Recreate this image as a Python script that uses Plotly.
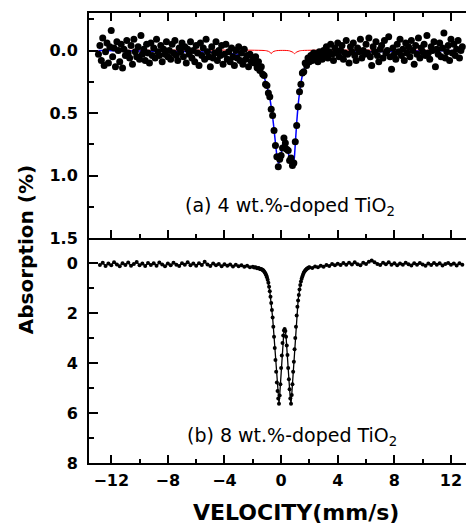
import plotly.graph_objects as go

# Mossbauer spectra, absorption (%) vs source velocity (mm/s)

# (a) 4 wt.% doped: measured points, 0.1 mm/s channels
velocity_a = [
    -12.9, -12.8, -12.7, -12.6, -12.5, -12.4, -12.3, -12.2, -12.1, -12.0,
    -11.9, -11.8, -11.7, -11.6, -11.5, -11.4, -11.3, -11.2, -11.1, -11.0,
    -10.9, -10.8, -10.7, -10.6, -10.5, -10.4, -10.3, -10.2, -10.1, -10.0,
    -9.9, -9.8, -9.7, -9.6, -9.5, -9.4, -9.3, -9.2, -9.1, -9.0,
    -8.9, -8.8, -8.7, -8.6, -8.5, -8.4, -8.3, -8.2, -8.1, -8.0,
    -7.9, -7.8, -7.7, -7.6, -7.5, -7.4, -7.3, -7.2, -7.1, -7.0,
    -6.9, -6.8, -6.7, -6.6, -6.5, -6.4, -6.3, -6.2, -6.1, -6.0,
    -5.9, -5.8, -5.7, -5.6, -5.5, -5.4, -5.3, -5.2, -5.1, -5.0,
    -4.9, -4.8, -4.7, -4.6, -4.5, -4.4, -4.3, -4.2, -4.1, -4.0,
    -3.9, -3.8, -3.7, -3.6, -3.5, -3.4, -3.3, -3.2, -3.1, -3.0,
    -2.9, -2.8, -2.7, -2.6, -2.5, -2.4, -2.3, -2.2, -2.1, -2.0,
    -1.9, -1.8, -1.7, -1.6, -1.5, -1.4, -1.3, -1.2, -1.1, -1.0,
    -0.9, -0.8, -0.7, -0.6, -0.5, -0.4, -0.3, -0.2, -0.1, 0.0,
    0.1, 0.2, 0.3, 0.4, 0.5, 0.6, 0.7, 0.8, 0.9, 1.0,
    1.1, 1.2, 1.3, 1.4, 1.5, 1.6, 1.7, 1.8, 1.9, 2.0,
    2.1, 2.2, 2.3, 2.4, 2.5, 2.6, 2.7, 2.8, 2.9, 3.0,
    3.1, 3.2, 3.3, 3.4, 3.5, 3.6, 3.7, 3.8, 3.9, 4.0,
    4.1, 4.2, 4.3, 4.4, 4.5, 4.6, 4.7, 4.8, 4.9, 5.0,
    5.1, 5.2, 5.3, 5.4, 5.5, 5.6, 5.7, 5.8, 5.9, 6.0,
    6.1, 6.2, 6.3, 6.4, 6.5, 6.6, 6.7, 6.8, 6.9, 7.0,
    7.1, 7.2, 7.3, 7.4, 7.5, 7.6, 7.7, 7.8, 7.9, 8.0,
    8.1, 8.2, 8.3, 8.4, 8.5, 8.6, 8.7, 8.8, 8.9, 9.0,
    9.1, 9.2, 9.3, 9.4, 9.5, 9.6, 9.7, 9.8, 9.9, 10.0,
    10.1, 10.2, 10.3, 10.4, 10.5, 10.6, 10.7, 10.8, 10.9, 11.0,
    11.1, 11.2, 11.3, 11.4, 11.5, 11.6, 11.7, 11.8, 11.9, 12.0,
    12.1, 12.2, 12.3, 12.4, 12.5, 12.6, 12.7, 12.8,
]
absorption_a = [
    0.03, -0.04, 0.08, -0.10, 0.12, 0.01, -0.06, 0.10, -0.03, -0.16,
    0.05, -0.02, 0.13, -0.07, 0.00, 0.09, -0.05, 0.14, -0.01, 0.04,
    -0.08, 0.02, 0.06, -0.04, 0.11, -0.09, 0.01, 0.05, -0.03, 0.07,
    -0.12, 0.03, -0.01, 0.08, -0.05, 0.02, 0.10, -0.06, 0.04, -0.02,
    0.06, -0.09, 0.01, 0.04, -0.04, 0.09, -0.01, 0.03, -0.07, 0.05,
    0.00, 0.07, -0.05, 0.02, -0.08, 0.04, 0.08, -0.02, 0.01, -0.06,
    0.05, -0.03, 0.10, -0.01, 0.03, -0.07, 0.06, 0.00, 0.09, -0.04,
    0.02, 0.12, -0.06, 0.04, -0.02, 0.07, -0.09, 0.01, 0.05, 0.13,
    -0.03, 0.06, 0.02, -0.07, 0.08, 0.00, 0.04, -0.04, 0.11, 0.03,
    -0.05, 0.07, 0.01, 0.09, -0.02, 0.05, 0.12, 0.00, 0.06, -0.03,
    0.08, 0.02, 0.11, -0.01, 0.07, 0.04, 0.13, 0.03, 0.09, 0.06,
    0.10, 0.05, 0.14, 0.09, 0.16, 0.13, 0.19, 0.20, 0.27, 0.28,
    0.34, 0.37, 0.47, 0.52, 0.64, 0.76, 0.85, 0.93, 0.87, 0.84,
    0.78, 0.70, 0.74, 0.79, 0.80, 0.88, 0.86, 0.92, 0.90, 0.73,
    0.60, 0.45, 0.33, 0.27, 0.18, 0.17, 0.10, 0.12, 0.06, 0.09,
    0.04, 0.08, 0.02, 0.06, 0.03, 0.09, 0.01, 0.05, 0.07, 0.00,
    0.04, -0.03, 0.06, 0.01, -0.05, 0.03, 0.08, -0.02, 0.02, -0.06,
    0.05, 0.00, -0.04, 0.07, 0.02, -0.08, 0.03, 0.10, -0.03, 0.01,
    -0.06, 0.04, 0.08, -0.02, 0.01, -0.09, 0.06, 0.00, 0.03, -0.05,
    0.02, -0.10, 0.05, 0.12, -0.03, 0.01, -0.07, 0.04, 0.09, -0.01,
    -0.04, 0.06, -0.08, 0.02, 0.00, -0.11, 0.05, 0.15, -0.02, 0.03,
    0.07, -0.05, 0.01, -0.09, 0.04, -0.01, 0.08, -0.06, 0.02, -0.03,
    0.05, -0.08, 0.00, 0.11, -0.04, 0.03, -0.10, 0.06, -0.02, 0.01,
    -0.05, 0.04, -0.12, 0.02, 0.07, -0.03, 0.00, -0.07, 0.13, -0.01,
    0.03, -0.06, 0.05, -0.02, -0.14, 0.06, 0.01, -0.04, 0.08, -0.09,
    0.02, -0.05, 0.04, -0.01, -0.08, 0.06, 0.00, -0.03,
]

# (a) fitted total (blue) and minor component (red)
fit_velocity_a = [
    -12.9, -6.0, -4.0, -3.0, -2.5, -2.0, -1.8, -1.6, -1.4, -1.3,
    -1.2, -1.1, -1.0, -0.9, -0.8, -0.7, -0.6, -0.5, -0.4, -0.3,
    -0.2, -0.1, 0.0, 0.1, 0.2, 0.3, 0.4, 0.5, 0.6, 0.7,
    0.8, 0.9, 1.0, 1.1, 1.2, 1.3, 1.4, 1.5, 1.6, 1.8,
    2.0, 2.5, 3.0, 4.0, 6.0, 12.8,
]
fit_total_a = [
    0.00, 0.01, 0.02, 0.03, 0.04, 0.06, 0.08, 0.11, 0.14, 0.17,
    0.21, 0.25, 0.29, 0.33, 0.38, 0.45, 0.53, 0.63, 0.74, 0.84,
    0.90, 0.89, 0.83, 0.76, 0.72, 0.73, 0.77, 0.82, 0.86, 0.89,
    0.91, 0.89, 0.75, 0.58, 0.44, 0.34, 0.26, 0.20, 0.16, 0.10,
    0.07, 0.04, 0.03, 0.02, 0.01, 0.00,
]
comp_velocity_a = [-12.9, -1.2, -1.0, -0.8, -0.7, -0.6, -0.4, -0.2,
                   0.4, 0.6, 0.8, 0.95, 1.1, 1.3, 1.5, 12.8]
comp_a = [0.0, 0.0, 0.003, 0.012, 0.025, 0.012, 0.003, 0.0,
          0.0, 0.003, 0.012, 0.025, 0.012, 0.003, 0.0, 0.0]

# (b) 8 wt.% doped: measured points (denser through the doublet)
velocity_b = [
    -12.8, -12.6, -12.4, -12.2, -12.0, -11.8, -11.6, -11.4, -11.2, -11.0,
    -10.8, -10.6, -10.4, -10.2, -10.0, -9.8, -9.6, -9.4, -9.2, -9.0,
    -8.8, -8.6, -8.4, -8.2, -8.0, -7.8, -7.6, -7.4, -7.2, -7.0,
    -6.8, -6.6, -6.4, -6.2, -6.0, -5.8, -5.6, -5.4, -5.2, -5.0,
    -4.8, -4.6, -4.4, -4.2, -4.0, -3.8, -3.6, -3.4, -3.2, -3.0,
    -2.8, -2.6, -2.4, -2.2, -2.0, -1.9, -1.8, -1.7, -1.6,
    -1.55, -1.50, -1.45, -1.40, -1.35, -1.30, -1.25, -1.20, -1.15, -1.10,
    -1.05, -1.00, -0.95, -0.90, -0.85, -0.80, -0.75, -0.70, -0.65, -0.60,
    -0.55, -0.50, -0.45, -0.40, -0.35, -0.30, -0.25, -0.20, -0.15, -0.10,
    -0.05, 0.00, 0.05, 0.10, 0.15, 0.20, 0.25, 0.30, 0.35, 0.40,
    0.45, 0.50, 0.55, 0.60, 0.65, 0.70, 0.75, 0.80, 0.85, 0.90,
    0.95, 1.00, 1.05, 1.10, 1.15, 1.20, 1.25, 1.30, 1.35, 1.40,
    1.45, 1.50, 1.55, 1.60, 1.65, 1.70, 1.75, 1.80, 1.85, 1.90,
    1.95, 2.00,
    2.2, 2.4, 2.6, 2.8, 3.0, 3.2, 3.4, 3.6, 3.8, 4.0,
    4.2, 4.4, 4.6, 4.8, 5.0, 5.2, 5.4, 5.6, 5.8, 6.0,
    6.2, 6.4, 6.6, 6.8, 7.0, 7.2, 7.4, 7.6, 7.8, 8.0,
    8.2, 8.4, 8.6, 8.8, 9.0, 9.2, 9.4, 9.6, 9.8, 10.0,
    10.2, 10.4, 10.6, 10.8, 11.0, 11.2, 11.4, 11.6, 11.8, 12.0,
    12.2, 12.4, 12.6, 12.8,
]
absorption_b = [
    0.08, -0.01, 0.12, 0.02, 0.09, -0.03, 0.06, 0.13, 0.01, 0.08,
    -0.02, 0.11, 0.04, -0.04, 0.09, 0.02, 0.12, 0.00, 0.08, 0.01,
    0.11, -0.02, 0.06, 0.13, 0.02, 0.09, -0.01, 0.07, 0.12, 0.01,
    0.07, -0.03, 0.09, 0.02, 0.11, 0.01, 0.08, -0.05, 0.06, 0.12,
    0.02, 0.09, 0.04, 0.13, 0.05, 0.11, 0.06, 0.14, 0.07, 0.13,
    0.09, 0.15, 0.11, 0.17, 0.15, 0.18, 0.17, 0.21, 0.20,
    0.22, 0.23, 0.24, 0.25, 0.26, 0.28, 0.30, 0.34, 0.38, 0.43,
    0.49, 0.57, 0.67, 0.79, 0.95, 1.13, 1.35, 1.60, 1.88, 2.18,
    2.55, 2.95, 3.40, 3.88, 4.35, 4.78, 5.12, 5.42, 5.63, 5.30,
    4.85, 4.20, 3.70, 3.20, 2.90, 2.70, 2.64, 2.72, 2.95, 3.30,
    3.68, 4.20, 4.65, 5.05, 5.42, 5.63, 5.28, 4.85, 4.35, 3.95,
    3.45, 3.00, 2.55, 2.10, 1.75, 1.50, 1.28, 1.06, 0.88, 0.74,
    0.63, 0.54, 0.46, 0.39, 0.34, 0.30, 0.27, 0.24, 0.22, 0.20,
    0.18, 0.17,
    0.20, 0.14, 0.17, 0.11, 0.15, 0.08, 0.12, 0.04, 0.09, 0.03,
    0.08, 0.00, 0.07, -0.01, 0.06, -0.03, 0.05, 0.09, -0.01, 0.04,
    -0.05, -0.10, -0.03, 0.04, 0.08, -0.01, 0.05, -0.03, 0.07, 0.01,
    0.09, 0.02, 0.07, -0.01, 0.05, 0.10, 0.01, 0.07, 0.00, 0.06,
    0.11, 0.02, 0.08, 0.00, 0.07, 0.01, 0.10, 0.04, 0.00, 0.07,
    0.02, 0.10, 0.01, 0.07,
]

FONT = "DejaVu Sans"
tick_font = dict(family=FONT, size=16, color="black", weight="bold")

fig = go.Figure()

# panel (a)
fig.add_trace(go.Scatter(x=comp_velocity_a, y=comp_a, xaxis="x2", yaxis="y2",
                         mode="lines", line=dict(color="red", width=1, shape="spline")))
fig.add_trace(go.Scatter(x=fit_velocity_a, y=fit_total_a, xaxis="x2", yaxis="y2",
                         mode="lines", line=dict(color="blue", width=1.5, shape="spline", smoothing=0.6)))
fig.add_trace(go.Scatter(x=velocity_a, y=absorption_a, xaxis="x2", yaxis="y2",
                         mode="markers", marker=dict(color="black", size=7)))

# panel (b)
fig.add_trace(go.Scatter(x=velocity_b, y=absorption_b, mode="lines+markers",
                         line=dict(color="black", width=1.3),
                         marker=dict(color="black", size=4)))

x_common = dict(range=[-13.57, 13.06], showgrid=False, zeroline=False,
                showline=True, linecolor="black", linewidth=2,
                ticks="inside", ticklen=8, tickwidth=2, tickcolor="black",
                tick0=0, dtick=4,
                minor=dict(ticks="inside", ticklen=4, tickwidth=2, tickcolor="black", tick0=0, dtick=2))
y_common = dict(showgrid=False, zeroline=False, showline=True, linecolor="black", linewidth=2,
                ticks="inside", ticklen=9, tickwidth=2, tickcolor="black",
                tickfont=tick_font, ticklabelstandoff=6)

fig.update_layout(
    width=466, height=526,
    margin=dict(l=89, r=0, t=13, b=63, autoexpand=False),
    paper_bgcolor="white", plot_bgcolor="white",
    showlegend=False,
    xaxis=dict(x_common, domain=[0, 1], anchor="y", tickfont=tick_font, ticklabelstandoff=2),
    xaxis2=dict(x_common, domain=[0, 1], anchor="y2", matches="x", showticklabels=False, mirror="ticks"),
    yaxis=dict(y_common, domain=[0, 0.5], anchor="x", range=[8, -1], tick0=0, dtick=2,
               minor=dict(ticks="inside", ticklen=5, tickwidth=2, tickcolor="black", tick0=1, dtick=2)),
    yaxis2=dict(y_common, domain=[0.5, 1], anchor="x2", range=[1.5, -0.3], tick0=0, dtick=0.5,
                tickformat=".1f",
                minor=dict(ticks="inside", ticklen=5, tickwidth=2, tickcolor="black", tick0=0.25, dtick=0.5)),
)

label_font = dict(family=FONT, size=19, color="black")
fig.add_annotation(text="(a) 4 wt.%-doped TiO<sub>2</sub>", xref="paper", yref="paper",
                   x=0.249, y=0.571, xanchor="left", yanchor="middle", showarrow=False, font=label_font)
fig.add_annotation(text="(b) 8 wt.%-doped TiO<sub>2</sub>", xref="paper", yref="paper",
                   x=0.255, y=0.058, xanchor="left", yanchor="middle", showarrow=False, font=label_font)

# axis titles
fig.add_annotation(text="Absorption (%)", xref="paper", yref="paper", x=-0.167, y=0.473,
                   xanchor="center", yanchor="middle", textangle=-90, showarrow=False,
                   font=dict(family=FONT, size=20, color="black", weight="bold"))
fig.add_annotation(text="VELOCITY(mm/s)", xref="paper", yref="paper", x=0.549, y=-0.109,
                   xanchor="center", yanchor="middle", showarrow=False,
                   font=dict(family=FONT, size=22, color="black", weight="bold"))

# page body has a default margin; drop it so the figure sits at the window corner
fig.write_html("out.html", config={"displayModeBar": False},
               post_script="document.body.style.margin='0';")
